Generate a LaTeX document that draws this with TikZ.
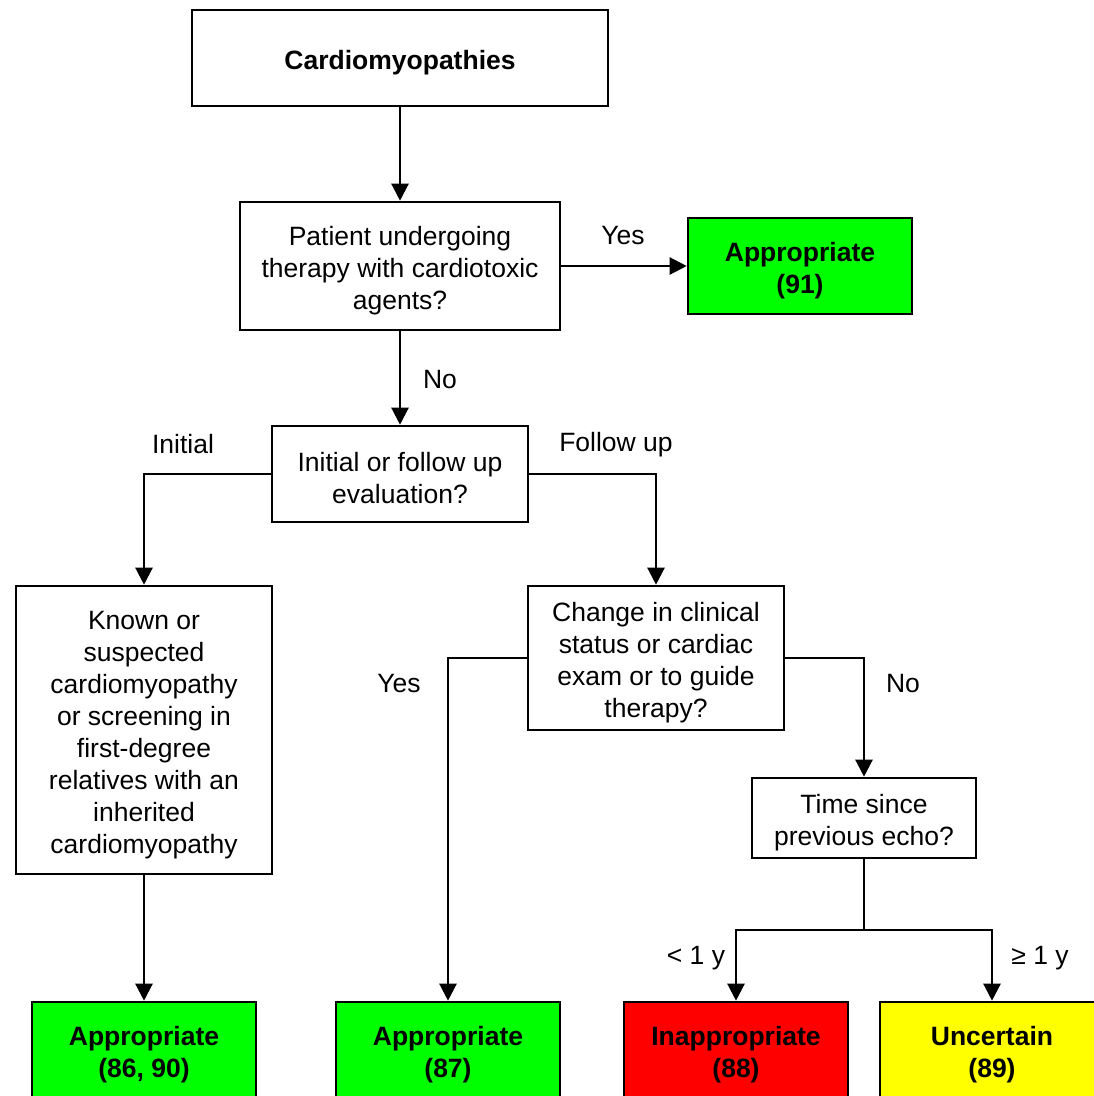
\documentclass[tikz,border=0pt]{standalone}
\usepackage{fontspec}
\setmainfont{Liberation Sans}
\usetikzlibrary{arrows.meta}
\definecolor{okgreen}{HTML}{00FF00}
\definecolor{badred}{HTML}{FF0000}
\definecolor{midyellow}{HTML}{FFFF00}
\newcommand{\flowfont}{\fontsize{26.5}{32}\selectfont}
\begin{document}
\begin{tikzpicture}[x=1pt,y=-1pt,
  box/.style={draw=black, line width=2.6pt, fill=white, inner sep=0pt, align=flush center,
    font=\flowfont, execute at begin node={\rule{0pt}{27.5pt}}},
  wbox/.style 2 args={box, minimum width=#1, text width=#1-12pt, minimum height=#2},
  result/.style={wbox={224pt}{96pt}, font=\flowfont\bfseries},
  arr/.style={line width=2.3pt, -{Triangle[length=17pt,width=17pt]}},
  link/.style={line width=2.3pt},
  lbl/.style={font=\flowfont, inner sep=0pt}]
\useasboundingbox (0,0) rectangle (1094,1096);
\clip (0,0) rectangle (1094,1096);

% decision boxes
\node[wbox={416pt}{96pt}, font=\flowfont\bfseries] (top) at (400,58) {Cardiomyopathies};
\node[wbox={320pt}{128pt}] (q1) at (400,266) {Patient undergoing\\therapy with cardiotoxic\\agents?};
\node[wbox={256pt}{96pt}] (q2) at (400,474) {Initial or follow up\\evaluation?};
\node[wbox={256pt}{288pt}] (known) at (144,730) {Known or\\suspected\\cardiomyopathy\\or screening in\\first-degree\\relatives with an\\inherited\\cardiomyopathy};
\node[wbox={256pt}{144pt}] (q3) at (656,658) {Change in clinical\\status or cardiac\\exam or to guide\\therapy?};
\node[wbox={224pt}{80pt}] (q4) at (864,818) {Time since\\previous echo?};

% outcomes
\node[result, fill=okgreen] (a91) at (800,266) {Appropriate\\(91)};
\node[result, fill=okgreen] (a86) at (144,1050) {Appropriate\\(86, 90)};
\node[result, fill=okgreen] (a87) at (448,1050) {Appropriate\\(87)};
\node[result, fill=badred] (i88) at (736,1050) {Inappropriate\\(88)};
\node[result, fill=midyellow] (u89) at (992,1050) {Uncertain\\(89)};

% connectors
\draw[arr] (top) -- (q1);
\draw[arr] (q1) -- (a91);
\draw[arr] (q1) -- (q2);
\draw[arr] (q2.west) -| (known.north);
\draw[arr] (q2.east) -| (q3.north);
\draw[arr] (q3.west) -| (a87.north);
\draw[arr] (q3.east) -| (q4.north);
\draw[arr] (known) -- (a86);
\coordinate (split) at (864,930);
\draw[link] (q4) -- (split);
\draw[arr] (split) -| (i88.north);
\draw[arr] (split) -| (u89.north);

% branch labels
\node[lbl] (lyes1) at (623,236) {Yes};
\node[lbl] (lno1) at (440,380) {No};
\node[lbl] (linit) at (183,444) {Initial};
\node[lbl] (lfol) at (616,445) {Follow up};
\node[lbl] (lyes2) at (399,684) {Yes};
\node[lbl] (lno2) at (903,684) {No};
\node[lbl] (llt) at (696,958) {< 1 y};
\node[lbl] (lge) at (1040,958) {≥ 1 y};
\end{tikzpicture}
\end{document}
